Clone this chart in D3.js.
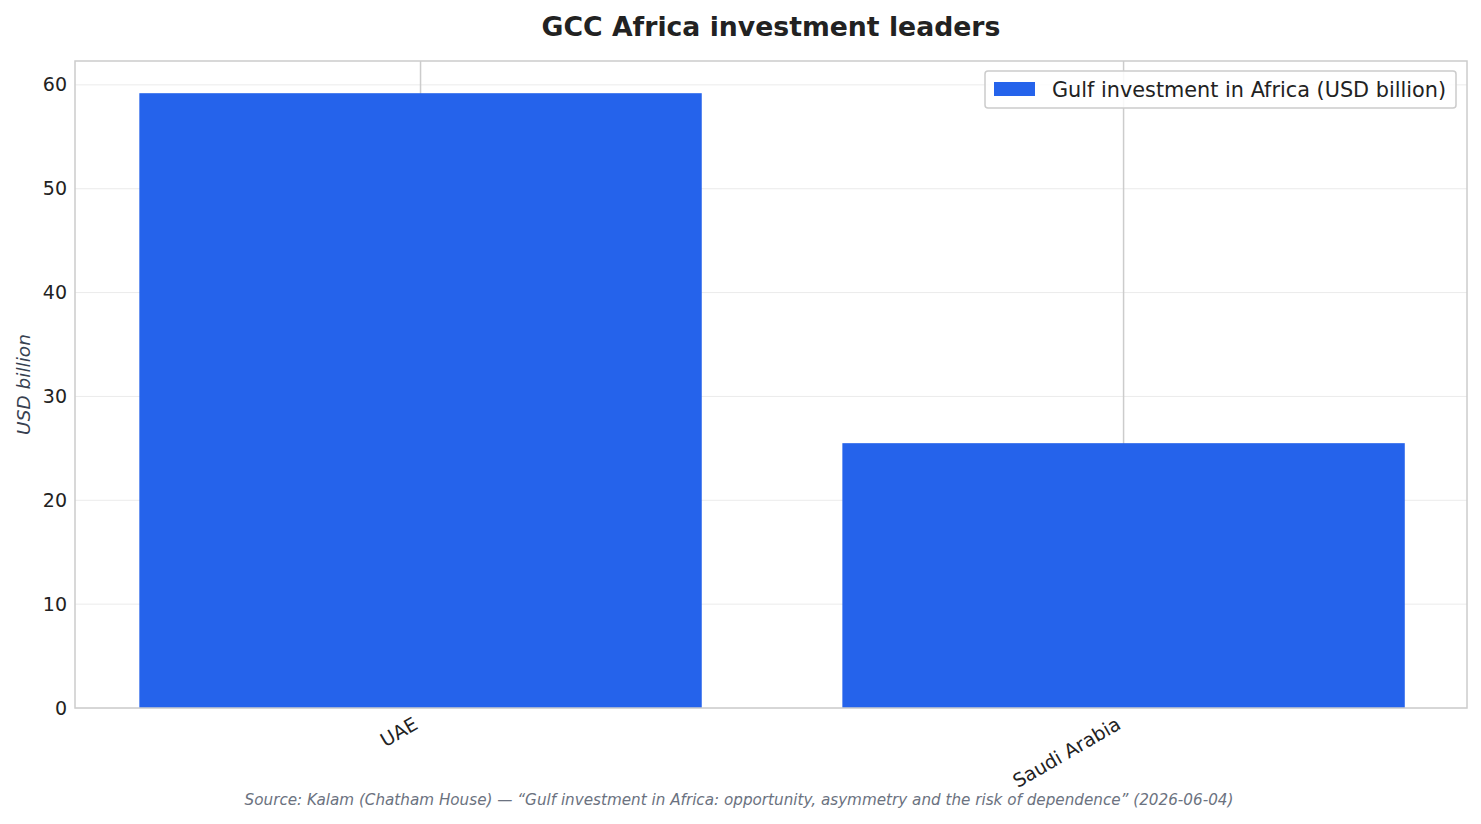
<!DOCTYPE html>
<html>
<head>
<meta charset="utf-8">
<script src="https://cdn.jsdelivr.net/npm/d3@7"></script>
<style>
  body { margin: 0; background: #fff; }
</style>
</head>
<body>
<div id="chart"></div>
<script>
const countries = ["UAE", "Saudi Arabia"];
const investment = [59.2, 25.5];
const yTicks = [0, 10, 20, 30, 40, 50, 60];
const seriesName = "Gulf investment in Africa (USD billion)";

const data = countries.map((c, i) => ({ country: c, value: investment[i] }));

const width = 1481, height = 824;
const plotLeft = 75, plotRight = 1467, plotTop = 61, plotBottom = 708;
const font = "DejaVu Sans";

const svg = d3.select("#chart")
  .append("svg")
  .attr("width", width)
  .attr("height", height)
  .style("background", "#fff");

// matplotlib-like: bars at 0,1 with width 0.8, 5% margins
const xScale = d3.scaleLinear()
  .domain([-0.4915, 1.4885])
  .range([plotLeft, plotRight]);

const yScale = d3.scaleLinear()
  .domain([0, 62.3])
  .range([plotBottom, plotTop]);

const barW = xScale(0.8) - xScale(0);

// horizontal grid
svg.append("g")
  .selectAll("line")
  .data(yTicks)
  .join("line")
  .attr("x1", plotLeft)
  .attr("x2", plotRight)
  .attr("y1", d => yScale(d))
  .attr("y2", d => yScale(d))
  .attr("stroke", "#ebebeb")
  .attr("stroke-width", 1);

// vertical grid at category ticks
svg.append("g")
  .selectAll("line")
  .data(data)
  .join("line")
  .attr("x1", (d, i) => xScale(i))
  .attr("x2", (d, i) => xScale(i))
  .attr("y1", plotTop)
  .attr("y2", plotBottom)
  .attr("stroke", "#cccccc")
  .attr("stroke-width", 1.5);

// bars
svg.append("g")
  .selectAll("rect")
  .data(data)
  .join("rect")
  .attr("x", (d, i) => xScale(i) - barW / 2)
  .attr("y", d => yScale(d.value))
  .attr("width", barW)
  .attr("height", d => yScale(0) - yScale(d.value))
  .attr("fill", "#2563eb");

// frame
svg.append("rect")
  .attr("x", plotLeft)
  .attr("y", plotTop)
  .attr("width", plotRight - plotLeft)
  .attr("height", plotBottom - plotTop)
  .attr("fill", "none")
  .attr("stroke", "#cccccc")
  .attr("stroke-width", 1.5);

// y axis
const yAxis = d3.axisLeft(yScale)
  .tickValues(yTicks)
  .tickSize(0)
  .tickPadding(8);

const yAxisGroup = svg.append("g")
  .attr("transform", `translate(${plotLeft},0)`)
  .call(yAxis);

yAxisGroup.select(".domain").remove();
yAxisGroup.selectAll(".tick text")
  .attr("fill", "#222")
  .attr("font-size", 19)
  .attr("font-family", font);

// x axis
const xAxis = d3.axisBottom(xScale)
  .tickValues([0, 1])
  .tickFormat(i => countries[i])
  .tickSize(0)
  .tickPadding(0);

const xAxisGroup = svg.append("g")
  .attr("transform", `translate(0,${plotBottom})`)
  .call(xAxis);

xAxisGroup.select(".domain").remove();
xAxisGroup.selectAll(".tick text")
  .attr("fill", "#222")
  .attr("font-size", 19)
  .attr("font-family", font)
  .attr("text-anchor", "end")
  .attr("dy", null)
  .attr("y", 0)
  .attr("transform", "translate(-2,20) rotate(-30)");

// y label
svg.append("text")
  .text("USD billion")
  .attr("transform", `translate(30,${(plotTop + plotBottom) / 2}) rotate(-90)`)
  .attr("text-anchor", "middle")
  .attr("fill", "#374151")
  .attr("font-family", font)
  .attr("font-style", "italic")
  .attr("font-size", 18.5);

// title
svg.append("text")
  .text("GCC Africa investment leaders")
  .attr("x", (plotLeft + plotRight) / 2)
  .attr("y", 36)
  .attr("text-anchor", "middle")
  .attr("fill", "#222")
  .attr("font-family", font)
  .attr("font-weight", 700)
  .attr("font-size", 26.7);

// legend
const legend = svg.append("g")
  .attr("transform", "translate(985,71)");

legend.append("rect")
  .attr("width", 471)
  .attr("height", 37)
  .attr("rx", 3)
  .attr("fill", "rgba(255,255,255,0.85)")
  .attr("stroke", "#cccccc")
  .attr("stroke-width", 1.5);

legend.append("rect")
  .attr("x", 9)
  .attr("y", 11)
  .attr("width", 41)
  .attr("height", 14)
  .attr("fill", "#2563eb");

legend.append("text")
  .text(seriesName)
  .attr("x", 67)
  .attr("y", 25.5)
  .attr("fill", "#222")
  .attr("font-family", font)
  .attr("font-size", 20.8);

// source
svg.append("text")
  .text("Source: Kalam (Chatham House) \u2014 \u201cGulf investment in Africa: opportunity, asymmetry and the risk of dependence\u201d (2026-06-04)")
  .attr("x", 739)
  .attr("y", 805)
  .attr("text-anchor", "middle")
  .attr("fill", "#6b7280")
  .attr("font-family", font)
  .attr("font-style", "italic")
  .attr("font-size", 15.2);
</script>
</body>
</html>
